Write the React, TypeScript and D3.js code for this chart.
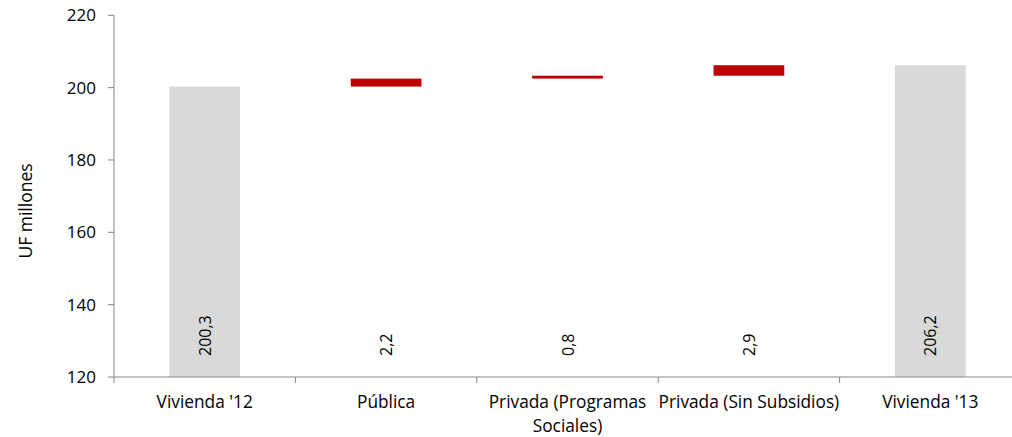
import React from "react";
import * as d3 from "d3";

// Waterfall: starting stock, three contributions, ending stock
const categories = ["Vivienda '12", "Pública", "Privada (Programas Sociales)", "Privada (Sin Subsidios)", "Vivienda '13"];
const categoryLines = [["Vivienda '12"], ["Pública"], ["Privada (Programas", "Sociales)"], ["Privada (Sin Subsidios)"], ["Vivienda '13"]];
const values = [200.3, 2.2, 0.8, 2.9, 206.2];
const kinds = ["total", "delta", "delta", "delta", "total"];
const valueLabels = ["200,3", "2,2", "0,8", "2,9", "206,2"];
const yTicks = [120, 140, 160, 180, 200, 220];

const W = 1012;
const H = 437;
const FONT = "'Open Sans', sans-serif";

export default function App() {
  const left = 114;
  const right = 1021;
  const top = 15.3;
  const bottom = 377;

  const x = d3.scaleBand<string>().domain(categories).range([left, right]).paddingInner(0.61).paddingOuter(0.305);
  const xBand = d3.scaleBand<string>().domain(categories).range([left, right]);
  const y = d3.scaleLinear().domain([120, 220]).range([bottom, top]);

  // running total to position each contribution
  let running = 0;
  const bars = categories.map((c, i) => {
    const v = values[i];
    if (kinds[i] === "total") {
      running = v;
      return { c, y0: 120, y1: v, kind: "total" };
    }
    const y0 = running;
    running = +(running + v).toFixed(2);
    return { c, y0, y1: running, kind: "delta" };
  });

  const axisColor = "#868686";
  const bandEdges = categories.map((c) => xBand(c)!).concat([right]);

  return (
    <svg width={W} height={H} style={{ position: "absolute", left: 0, top: 0, fontFamily: FONT }}>
      {bars.map((b) => (
        <rect
          key={b.c}
          x={x(b.c)!}
          width={x.bandwidth()}
          y={y(b.y1)}
          height={Math.max(1, y(b.y0) - y(b.y1))}
          fill={b.kind === "total" ? "#D9D9D9" : "#C00000"}
        />
      ))}

      {/* y axis */}
      <line x1={left} x2={left} y1={top} y2={bottom} stroke={axisColor} strokeWidth={1} />
      {yTicks.map((t) => (
        <g key={t}>
          <line x1={left - 6} x2={left} y1={y(t)} y2={y(t)} stroke={axisColor} />
          <text x={96} y={y(t)} dy="0.35em" textAnchor="end" fontSize={17} fill="#000">
            {t}
          </text>
        </g>
      ))}

      {/* x axis */}
      <line x1={left} x2={right} y1={bottom} y2={bottom} stroke={axisColor} strokeWidth={1} />
      {bandEdges.map((e, i) => (
        <line key={i} x1={e} x2={e} y1={bottom} y2={bottom + 6} stroke={axisColor} />
      ))}
      {categories.map((c, i) => (
        <text key={c} x={xBand(c)! + xBand.bandwidth() / 2} y={408} textAnchor="middle" fontSize={17.3} fill="#000">
          {categoryLines[i].map((line, j) => (
            <tspan key={j} x={xBand(c)! + xBand.bandwidth() / 2} dy={j === 0 ? 0 : 24}>
              {line}
            </tspan>
          ))}
        </text>
      ))}

      {/* value labels */}
      {categories.map((c, i) => {
        const cx = xBand(c)! + xBand.bandwidth() / 2;
        return (
          <text key={c} transform={`translate(${cx + 6},356) rotate(-90)`} textAnchor="start" fontSize={16} fill="#000">
            {valueLabels[i]}
          </text>
        );
      })}

      <text transform={`translate(32,211) rotate(-90)`} textAnchor="middle" fontSize={17.5} fill="#000">
        UF millones
      </text>
    </svg>
  );
}
